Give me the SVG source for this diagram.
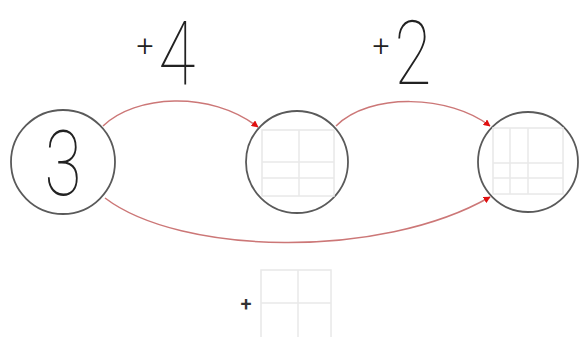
<svg xmlns="http://www.w3.org/2000/svg" width="579" height="337" viewBox="0 0 579 337">
<style>
.node{fill:none;stroke:#5a5a5a;stroke-width:1.8}
.grid{fill:none;stroke:#e8e8e8;stroke-width:1.5}
.conn{fill:none;stroke:#c77;stroke-width:1.5}
.big{font-family:Roboto,"DejaVu Sans",sans-serif;font-weight:100;fill:#222}
.plus{font-family:Roboto,"DejaVu Sans",sans-serif;font-weight:300;fill:#222}
</style>
<defs>
<marker id="ah" viewBox="0 0 10 10" refX="9" refY="5" markerWidth="7" markerHeight="7" orient="auto" markerUnits="userSpaceOnUse">
<path d="M0,0 L10,5 L0,10 z" fill="#e01010"/>
</marker>
</defs>
<rect width="579" height="337" fill="#fff"/>
<g id="connectors">
<path class="conn" d="M103,126 C135,95 210,90 258,127" marker-end="url(#ah)"/>
<path class="conn" d="M336,126 C370,92 450,95 490,126" marker-end="url(#ah)"/>
<path class="conn" d="M105,198 C180,255 380,260 490,197" marker-end="url(#ah)"/>
</g>
<g id="label-plus4">
<text class="plus" x="145" y="56" font-size="30" text-anchor="middle">+</text>
<text class="big" x="177" y="80" font-size="84" text-anchor="middle" transform="translate(177 0) scale(0.8 1.05) translate(-177 0)">4</text>
</g>
<g id="label-plus2">
<text class="plus" x="381" y="56" font-size="30" text-anchor="middle">+</text>
<text class="big" x="413" y="80" font-size="84" text-anchor="middle" transform="translate(413 0) scale(0.8 1.05) translate(-413 0)">2</text>
</g>
<g id="node-3">
<circle class="node" cx="63" cy="162" r="52"/>
<text class="big" x="63" y="195" font-size="90" text-anchor="middle" transform="translate(63 0) scale(0.75 1) translate(-63 0)">3</text>
</g>
<g id="node-2">
<circle class="node" cx="297" cy="162" r="51"/>
<g class="grid">
<rect x="262" y="130" width="72" height="66"/>
<line x1="299" y1="130" x2="299" y2="196"/>
<line x1="262" y1="162" x2="334" y2="162"/>
<line x1="262" y1="178" x2="334" y2="178"/>
</g>
</g>
<g id="node-result">
<circle class="node" cx="528" cy="162" r="50"/>
<g class="grid">
<rect x="493" y="128" width="70" height="66"/>
<line x1="510" y1="128" x2="510" y2="194"/>
<line x1="528" y1="128" x2="528" y2="194"/>
<line x1="493" y1="163" x2="563" y2="163"/>
<line x1="493" y1="178" x2="563" y2="178"/>
</g>
</g>
<g id="bottom-answer">
<text class="plus" x="246" y="311" font-size="20" text-anchor="middle" style="font-weight:500;fill:#333">+</text>
<g class="grid">
<rect x="261" y="270" width="70" height="70"/>
<line x1="298" y1="270" x2="298" y2="337"/>
<line x1="261" y1="303" x2="331" y2="303"/>
</g>
</g>
</svg>
